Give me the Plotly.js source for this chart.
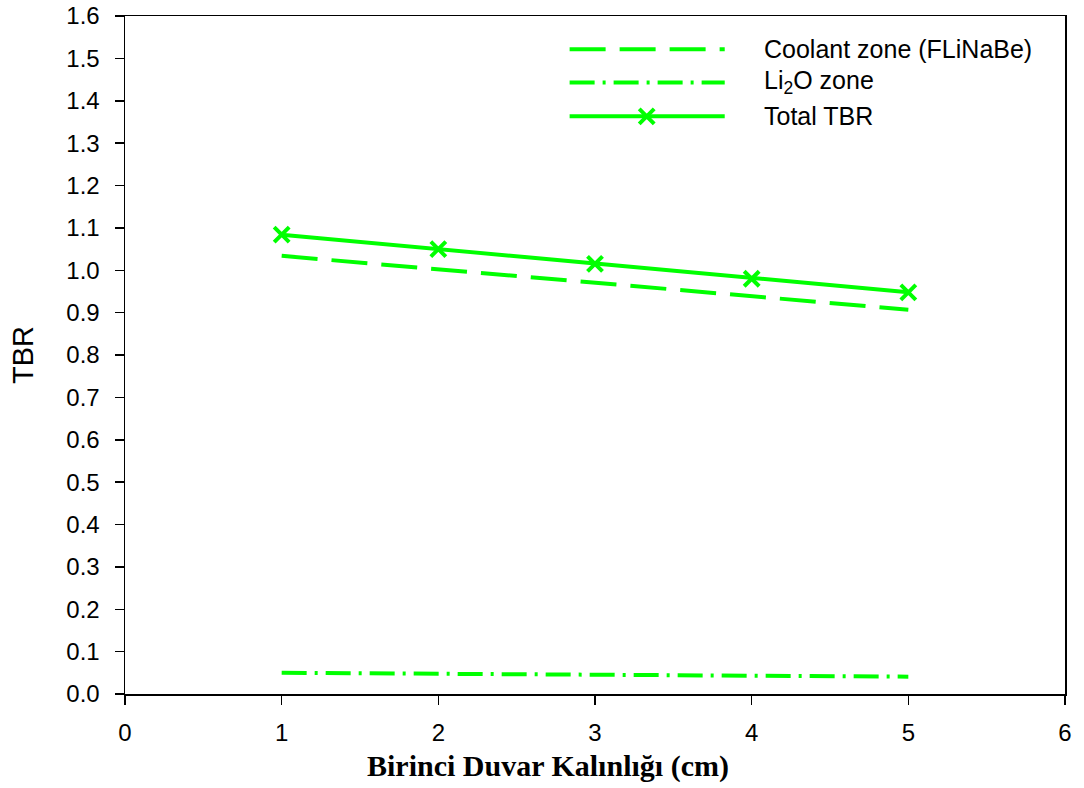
<!DOCTYPE html>
<html>
<head>
<meta charset="utf-8">
<script src="https://cdn.plot.ly/plotly-3.0.1.min.js"></script>
<style>html,body{margin:0;padding:0;background:#fff;}#chart{width:1084px;height:788px;}</style>
</head>
<body>
<div id="chart"></div>
<script>
// Data
const thickness = [1, 2, 3, 4, 5];
const coolantTBR = [1.034, 1.002, 0.969, 0.937, 0.907];
const li2oTBR = [0.050, 0.048, 0.046, 0.043, 0.041];
const totalTBR = [1.084, 1.050, 1.015, 0.980, 0.948];

const seriesNames = ["Coolant zone (FLiNaBe)", "Li<sub>2</sub>O zone", "Total TBR"];
const xTitle = "<b>Birinci Duvar Kalınlığı (cm)</b>";
const yTitle = "TBR";
const xTicks = [0, 1, 2, 3, 4, 5, 6];
const yTicks = [0, 0.1, 0.2, 0.3, 0.4, 0.5, 0.6, 0.7, 0.8, 0.9, 1.0, 1.1, 1.2, 1.3, 1.4, 1.5, 1.6];

const green = "#00ff00";
const dashCoolant = "36px,14px";
const dashLi = "25px,8px,3px,8px";

const traces = [
  {x: thickness, y: li2oTBR, mode: "lines", name: seriesNames[1],
   line: {color: green, width: 4, dash: dashLi}, showlegend: false},
  {x: thickness, y: coolantTBR, mode: "lines", name: seriesNames[0],
   line: {color: green, width: 4, dash: dashCoolant}, showlegend: false},
  {x: thickness, y: totalTBR, mode: "lines+markers", name: seriesNames[2],
   line: {color: green, width: 4},
   marker: {symbol: "x-thin-open", size: 15, color: green, line: {color: green, width: 4}},
   showlegend: false, cliponaxis: false},
  // custom legend samples (overlay axes spanning the plot area)
  {x: [0.473, 0.638], y: [0.951, 0.951], xaxis: "x2", yaxis: "y2", mode: "lines",
   line: {color: green, width: 4, dash: dashCoolant}, showlegend: false, hoverinfo: "skip"},
  {x: [0.473, 0.638], y: [0.902, 0.902], xaxis: "x2", yaxis: "y2", mode: "lines",
   line: {color: green, width: 4, dash: dashLi}, showlegend: false, hoverinfo: "skip"},
  {x: [0.473, 0.638], y: [0.852, 0.852], xaxis: "x2", yaxis: "y2", mode: "lines",
   line: {color: green, width: 4}, showlegend: false, hoverinfo: "skip"},
  {x: [0.555], y: [0.852], xaxis: "x2", yaxis: "y2", mode: "markers",
   marker: {symbol: "x-thin-open", size: 15, color: green, line: {color: green, width: 4}},
   showlegend: false, hoverinfo: "skip", cliponaxis: false}
];

const tickFont = {family: "Liberation Sans, Arial, sans-serif", size: 24, color: "#000"};
const legendFont = {family: "Liberation Sans, Arial, sans-serif", size: 25, color: "#000"};

const layout = {
  width: 1084, height: 788,
  margin: {l: 125, r: 19, t: 16, b: 94},
  paper_bgcolor: "#fff", plot_bgcolor: "#fff",
  showlegend: false,
  xaxis: {
    range: [0, 6], tickvals: xTicks, ticktext: xTicks.map(String),
    showline: true, linecolor: "#000", linewidth: 1.5, mirror: true,
    ticks: "outside", ticklen: 9, tickwidth: 1.5, tickcolor: "#000",
    ticklabelstandoff: 8,
    showgrid: false, zeroline: false, tickfont: tickFont
  },
  yaxis: {
    range: [0, 1.6], tickvals: yTicks, ticktext: yTicks.map(v => v.toFixed(1)),
    showline: true, linecolor: "#000", linewidth: 1.5, mirror: true,
    ticks: "outside", ticklen: 9, tickwidth: 1.5, tickcolor: "#000",
    ticklabelstandoff: 10,
    showgrid: false, zeroline: false, tickfont: tickFont,
    title: {text: yTitle, standoff: 24,
      font: {family: "Liberation Sans, Arial, sans-serif", size: 29, color: "#000"}}
  },
  xaxis2: {overlaying: "x", range: [0, 1], visible: false, fixedrange: true},
  yaxis2: {overlaying: "y", range: [0, 1], visible: false, fixedrange: true},
  annotations: [
    {text: seriesNames[0], x: 0.678, y: 0.951, xanchor: "left", font: legendFont},
    {text: seriesNames[1], x: 0.678, y: 0.902, xanchor: "left", font: legendFont},
    {text: seriesNames[2], x: 0.678, y: 0.852, xanchor: "left", font: legendFont},
    {text: xTitle, x: 0.45, y: -0.106, xanchor: "center",
     font: {family: "Liberation Serif, Times New Roman, serif", size: 30, color: "#000"}}
  ].map(a => Object.assign(a, {xref: "paper", yref: "paper", yanchor: "middle", showarrow: false}))
};

Plotly.newPlot("chart", traces, layout, {displayModeBar: false, staticPlot: true});
</script>
</body>
</html>
